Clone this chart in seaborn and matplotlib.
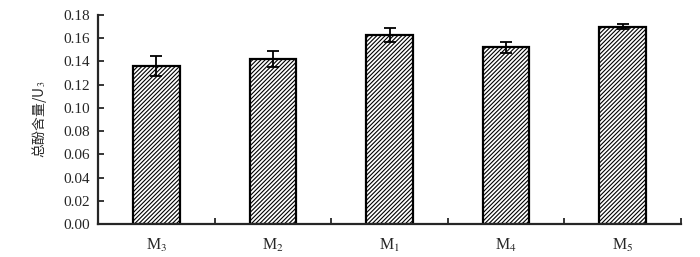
# Total phenol content bar chart with error bars
import matplotlib
matplotlib.use("Agg")
import matplotlib.pyplot as plt
import seaborn as sns
import pandas as pd

# --------------------------------------
# Data
# --------------------------------------
groups = ["M$_3$", "M$_2$", "M$_1$", "M$_4$", "M$_5$"]
values = [0.136, 0.142, 0.163, 0.152, 0.170]
errors = [0.0085, 0.007, 0.006, 0.005, 0.0025]
yticks = [0.00, 0.02, 0.04, 0.06, 0.08, 0.10, 0.12, 0.14, 0.16, 0.18]

df = pd.DataFrame({"group": groups, "value": values})

# --------------------------------------
# Style
# --------------------------------------
sns.set_style("ticks")
plt.rcParams["font.family"] = ["Liberation Serif", "Noto Sans CJK SC", "DejaVu Sans"]
plt.rcParams["mathtext.fontset"] = "stix"
plt.rcParams["hatch.linewidth"] = 0.8
plt.rcParams["hatch.color"] = "black"

fig = plt.figure(figsize=(7, 2.57), dpi=100)
ax = fig.add_axes([0.14, 0.128, 0.833, 0.814])

sns.barplot(data=df, x="group", y="value", ax=ax, color="white",
            edgecolor="black", linewidth=1.6, width=0.40, errorbar=None)
for p in ax.patches:
    p.set_hatch("////////")

ax.errorbar(range(len(values)), values, yerr=errors, fmt="none",
            ecolor="black", elinewidth=1.3, capsize=4.3, capthick=1.3)

# --------------------------------------
# Axes
# --------------------------------------
ax.set_xlim(-0.5, len(groups) - 0.5)
ax.set_ylim(0, 0.18)
ax.set_yticks(yticks)
ax.set_yticklabels([f"{t:.2f}" for t in yticks])
ax.set_xticks(range(len(groups)))
ax.set_xticklabels(groups)
ax.set_xticks([i + 0.5 for i in range(len(groups))], minor=True)
ax.tick_params(axis="x", which="major", length=0, pad=9, labelsize=11.5)
ax.tick_params(axis="x", which="minor", direction="in", length=4, width=1.3)
ax.tick_params(axis="y", direction="in", length=4, width=1.3, labelsize=11, pad=6)

ax.set_xlabel("")
ax.set_ylabel("总酚含量/U$_3$", fontsize=10, labelpad=10,
              family=["Noto Sans CJK SC", "DejaVu Sans"])

sns.despine(ax=ax)
for s in ["left", "bottom"]:
    ax.spines[s].set_linewidth(1.6)

fig.savefig("out.png", dpi=100)
